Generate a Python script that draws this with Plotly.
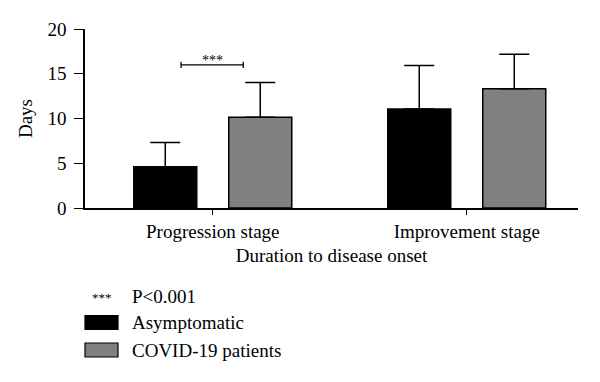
import plotly.graph_objects as go

categories = ["Progression stage", "Improvement stage"]
asym_mean = [4.62, 11.05]
asym_sd = [2.69, 4.88]
covid_mean = [10.15, 13.32]
covid_sd = [3.88, 3.85]
y_ticks = [0, 5, 10, 15, 20]

FONT = "Liberation Serif"
FS = 19
OFF = 8  # page body margin
W, H = 600 - OFF, 382 - OFF
# target plot area in window pixels: x 85..578, y 29.3..208
L, R, T = 85 - OFF, 600 - 578, 29 - OFF
B = H - T - 179
pw, ph = W - L - R, H - T - B

def px(x):
    return (x - OFF - L) / pw

def py(y):
    return (H - B - (y - OFF)) / ph

fig = go.Figure()
fig.add_trace(go.Bar(
    x=categories, y=asym_mean, name="Asymptomatic",
    marker=dict(color="#000000", line=dict(color="#000000", width=1.5)),
    error_y=dict(type="data", symmetric=False, array=asym_sd, arrayminus=[0, 0],
                 color="#000000", thickness=1.5, width=15),
))
fig.add_trace(go.Bar(
    x=categories, y=covid_mean, name="COVID-19 patients",
    marker=dict(color="#808080", line=dict(color="#000000", width=1.5)),
    error_y=dict(type="data", symmetric=False, array=covid_sd, arrayminus=[0, 0],
                 color="#000000", thickness=1.5, width=15),
))

# significance bracket
br_y = 16.0
x0, x1 = -0.125, 0.12
line = dict(color="#000000", width=1.3)
fig.add_shape(type="line", xref="x", yref="y", x0=x0, x1=x1, y0=br_y, y1=br_y, line=line)
fig.add_shape(type="line", xref="x", yref="y", x0=x0, x1=x0, y0=br_y - 0.35, y1=br_y + 0.35, line=line)
fig.add_shape(type="line", xref="x", yref="y", x0=x1, x1=x1, y0=br_y - 0.35, y1=br_y + 0.35, line=line)
fig.add_annotation(x=(x0 + x1) / 2, y=br_y, xref="x", yref="y", text="***",
                   showarrow=False, yanchor="bottom", yshift=-5,
                   font=dict(family=FONT, size=14, color="#000000"))

# custom legend
fig.add_annotation(x=px(102), y=py(297), xref="paper", yref="paper", text="***",
                   showarrow=False, xanchor="center", yanchor="middle",
                   font=dict(family=FONT, size=13, color="#000000"))
fig.add_annotation(x=px(130), y=py(296), xref="paper", yref="paper", text="P<0.001",
                   showarrow=False, xanchor="left", yanchor="middle",
                   font=dict(family=FONT, size=FS, color="#000000"))
for yc, col, label in [(322.5, "#000000", "Asymptomatic"), (350, "#808080", "COVID-19 patients")]:
    fig.add_shape(type="rect", xref="paper", yref="paper",
                  x0=px(85), x1=px(118), y0=py(yc - 7), y1=py(yc + 7),
                  fillcolor=col, line=dict(color="#000000", width=1.2))
    fig.add_annotation(x=px(130), y=py(yc), xref="paper", yref="paper", text=label,
                       showarrow=False, xanchor="left", yanchor="middle",
                       font=dict(family=FONT, size=FS, color="#000000"))

fig.update_layout(
    width=W, height=H,
    margin=dict(l=L, r=R, t=T, b=B, pad=0),
    paper_bgcolor="white", plot_bgcolor="white",
    barmode="group", bargap=0.252, bargroupgap=0.337,
    showlegend=False,
    font=dict(family=FONT, size=FS, color="#000000"),
)
fig.update_xaxes(
    range=[-0.503, 1.438], showline=True, linecolor="#000000", linewidth=1.5,
    ticks="outside", ticklen=5, tickwidth=1.3, tickcolor="#000000",
    showgrid=False, zeroline=False,
    tickfont=dict(family=FONT, size=FS),
    title=dict(text="Duration to disease onset", font=dict(family=FONT, size=FS), standoff=8),
)
fig.update_yaxes(
    range=[0, 20], tickvals=y_ticks, showline=True, linecolor="#000000", linewidth=1.5,
    ticks="outside", ticklen=9, tickwidth=1.3, tickcolor="#000000",
    ticklabelstandoff=4,
    showgrid=False, zeroline=False,
    tickfont=dict(family=FONT, size=FS),
    title=dict(text="Days", font=dict(family=FONT, size=FS), standoff=10),
)

fig.write_html("out.html")
